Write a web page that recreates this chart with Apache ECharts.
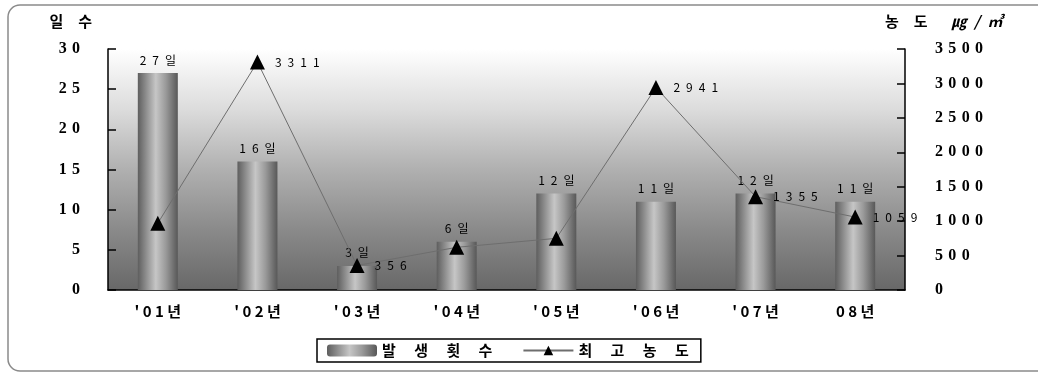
<!DOCTYPE html>
<html>
<head>
<meta charset="utf-8">
<script src="https://cdn.jsdelivr.net/npm/echarts@6/dist/echarts.min.js"></script>
<style>
  html, body { margin: 0; padding: 0; background: #fff; }
  #chart { width: 1038px; height: 372px; }
</style>
</head>
<body>
<div id="chart"></div>
<script>
// Years on the category axis
const years = ["'01년", "'02년", "'03년", "'04년", "'05년", "'06년", "'07년", "08년"];
// Number of occurrence days per year (bars, left axis)
const days = [27, 16, 3, 6, 12, 11, 12, 11];
// Peak concentration per year (line, right axis, ㎍/㎥)
const peak = [970, 3311, 356, 620, 750, 2941, 1355, 1059];
// Which peak values carry a printed label
const peakLabelled = [false, true, true, false, false, true, true, true];

const EN = '\u2002';
const EM = '\u2003';
const spread = (s, gap) => String(s).split('').join(gap);
const CJK = '"Noto Sans CJK KR", "Noto Sans", sans-serif';
const SERIF = '"Liberation Serif", "DejaVu Serif", serif';

const barFill = new echarts.graphic.LinearGradient(0, 0, 1, 0, [
  { offset: 0, color: '#5e5e5e' },
  { offset: 0.2, color: '#8c8c8c' },
  { offset: 0.45, color: '#c6c6c6' },
  { offset: 0.7, color: '#9a9a9a' },
  { offset: 1, color: '#585858' }
]);

// Frame around the whole figure: open on the right, rounded on the left
const frameStyle = { fill: 'none', stroke: '#8a8a8a', lineWidth: 1.5 };
const frame = [
  { type: 'line', shape: { x1: 20, y1: 5, x2: 1040, y2: 5 } },
  { type: 'line', shape: { x1: 8, y1: 17, x2: 8, y2: 359 } },
  { type: 'line', shape: { x1: 20, y1: 371, x2: 1040, y2: 371 } },
  { type: 'arc', shape: { cx: 20, cy: 17, r: 12, startAngle: Math.PI, endAngle: Math.PI * 1.5 } },
  { type: 'arc', shape: { cx: 20, cy: 359, r: 12, startAngle: Math.PI * 0.5, endAngle: Math.PI } }
].map(g => Object.assign(g, { style: frameStyle, silent: true, z: -1 }));

const chart = echarts.init(document.getElementById('chart'));
chart.setOption({
  animation: false,
  backgroundColor: '#ffffff',
  graphic: frame,
  grid: {
    left: 108, right: 133, top: 49, bottom: 82,
    show: true,
    borderWidth: 0,
    backgroundColor: new echarts.graphic.LinearGradient(0, 0, 0, 1, [
      { offset: 0, color: '#ffffff' },
      { offset: 0.25, color: '#dcdcdc' },
      { offset: 0.5, color: '#b0b0b0' },
      { offset: 0.75, color: '#8a8a8a' },
      { offset: 1, color: '#686868' }
    ])
  },
  legend: {
    bottom: 10,
    left: 317,
    itemWidth: 50,
    itemHeight: 12,
    itemGap: 30,
    padding: [4, 12, 4, 10],
    borderColor: '#000',
    borderWidth: 1.5,
    textStyle: { fontFamily: CJK, fontWeight: 'bold', fontSize: 15, color: '#000' },
    formatter: name => spread(name, EM + ' '),
    data: ['발생횟수', '최고농도']
  },
  xAxis: {
    type: 'category',
    data: years,
    axisLine: { lineStyle: { color: '#000', width: 1.5 } },
    axisTick: { inside: true, length: 5, lineStyle: { color: '#000', width: 1.5 } },
    axisLabel: {
      margin: 14,
      fontFamily: CJK, fontWeight: 'bold', fontSize: 15, color: '#000',
      formatter: v => spread(v, ' ')
    }
  },
  yAxis: [{
    type: 'value',
    min: 0, max: 30, interval: 5,
    name: '일' + EM + '수',
    nameLocation: 'end',
    nameGap: 20,
    nameTextStyle: { fontFamily: CJK, fontWeight: 'bold', fontSize: 15, color: '#000', align: 'right', padding: [0, 16, 0, 0] },
    splitLine: { show: false },
    axisLine: { show: true, lineStyle: { color: '#000', width: 1.5 } },
    axisTick: { show: true, inside: true, length: 8, lineStyle: { color: '#000', width: 1.5 } },
    axisLabel: {
      margin: 28,
      fontFamily: SERIF, fontWeight: 'bold', fontSize: 16, color: '#000',
      formatter: v => spread(v, ' \u200A')
    }
  }, {
    type: 'value',
    min: 0, max: 3500, interval: 500,
    name: '{a|농}{a|' + EM + '}{a|도}' + EM + EM + '{b|㎍' + EN + '/' + EN + '㎥}',
    nameLocation: 'end',
    nameGap: 20,
    nameTextStyle: {
      align: 'left', padding: [0, 0, 0, -20],
      rich: {
        a: { fontFamily: CJK, fontWeight: 'bold', fontSize: 15, color: '#000' },
        b: { fontFamily: CJK, fontWeight: 'bold', fontStyle: 'italic', fontSize: 15, color: '#000' }
      }
    },
    splitLine: { show: false },
    axisLine: { show: true, lineStyle: { color: '#000', width: 1.5 } },
    axisTick: { show: true, inside: true, length: 8, lineStyle: { color: '#000', width: 1.5 } },
    axisLabel: {
      margin: 30,
      fontFamily: SERIF, fontWeight: 'bold', fontSize: 16, color: '#000',
      formatter: v => spread(v, ' \u200A')
    }
  }],
  series: [{
    name: '발생횟수',
    type: 'bar',
    yAxisIndex: 0,
    barWidth: 40,
    data: days,
    itemStyle: { color: barFill },
    label: {
      show: true,
      position: 'top',
      distance: 7,
      fontFamily: CJK, fontSize: 12, color: '#000',
      formatter: p => spread(p.value, EN) + EN + '일'
    }
  }, {
    name: '최고농도',
    type: 'line',
    yAxisIndex: 1,
    data: peak.map((v, i) => ({
      value: v,
      label: { show: peakLabelled[i] }
    })),
    symbol: 'triangle',
    symbolSize: 15,
    lineStyle: { color: '#6e6e6e', width: 1 },
    itemStyle: { color: '#000' },
    z: 5,
    label: {
      show: false,
      position: 'right',
      distance: 10,
      fontFamily: CJK, fontSize: 12, color: '#000',
      formatter: p => spread(p.value, EN)
    }
  }]
});
</script>
</body>
</html>
